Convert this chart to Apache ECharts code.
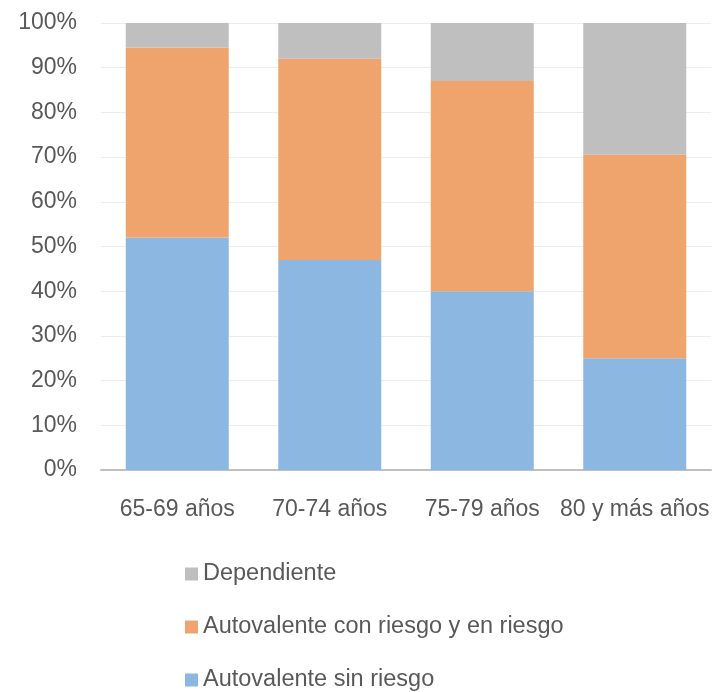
<!DOCTYPE html>
<html>
<head>
<meta charset="utf-8">
<script src="https://cdn.jsdelivr.net/npm/echarts@6/dist/echarts.min.js"></script>
<style>
  html, body { margin: 0; padding: 0; background: #fff; }
  #chart { width: 726px; height: 692px; }
</style>
</head>
<body>
<div id="chart"></div>
<script>
// Age groups along the horizontal axis
const categories = ['65-69 años', '70-74 años', '75-79 años', '80 y más años'];

// Share of each group (percent), stacked from the bottom
const sinRiesgo = [52, 47, 40, 25];
const conRiesgo = [42.5, 45, 47, 45.5];
const dependiente = [5.5, 8, 13, 29.5];

const seriesNames = ['Autovalente sin riesgo', 'Autovalente con riesgo y en riesgo', 'Dependiente'];
const seriesColors = ['#8cb7e0', '#efa46d', '#bfbfbf'];
const seriesValues = [sinRiesgo, conRiesgo, dependiente];

const textColor = '#595959';
const fontFamily = '"Liberation Sans", Arial, sans-serif';

const chart = echarts.init(document.getElementById('chart'), null, { renderer: 'canvas' });

chart.setOption({
  animation: false,
  backgroundColor: '#ffffff',
  grid: { left: 101, right: 15, top: 23, bottom: 222 },
  legend: {
    orient: 'vertical',
    left: 185,
    top: 562,
    height: 130,
    padding: 0,
    itemWidth: 13,
    itemHeight: 13,
    itemGap: 29,
    icon: 'rect',
    data: ['Dependiente', 'Autovalente con riesgo y en riesgo', 'Autovalente sin riesgo'],
    textStyle: { color: textColor, fontSize: 23.5, fontFamily: fontFamily, lineHeight: 24 }
  },
  xAxis: {
    type: 'category',
    data: categories,
    axisLine: { lineStyle: { color: '#bfbfbf', width: 2 } },
    axisTick: { show: false },
    axisLabel: { color: textColor, fontSize: 23, fontFamily: fontFamily, margin: 28, interval: 0 }
  },
  yAxis: {
    type: 'value',
    min: 0,
    max: 100,
    interval: 10,
    axisLine: { show: false },
    axisTick: { show: false },
    splitLine: { lineStyle: { color: '#ececec', width: 1 } },
    axisLabel: { color: textColor, fontSize: 23, fontFamily: fontFamily, margin: 24, formatter: '{value}%' }
  },
  series: seriesNames.map((name, i) => ({
    name: name,
    type: 'bar',
    stack: 'total',
    barWidth: 103,
    itemStyle: { color: seriesColors[i] },
    data: seriesValues[i]
  }))
});
</script>
</body>
</html>
